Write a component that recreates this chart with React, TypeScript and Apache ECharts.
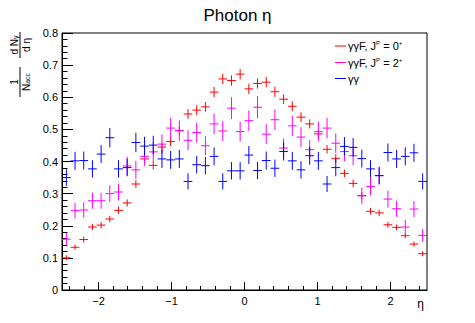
import React, { useEffect, useRef } from "react";
import * as echarts from "echarts";

const ETA_MIN = -2.5;
const ETA_MAX = 2.5;

// gammagamma fusion, J^P = 0+
const spin0 = [
  0.1, 0.133, 0.157, 0.196, 0.202, 0.221, 0.248, 0.271, 0.33, 0.408,
  0.388, 0.445, 0.462, 0.496, 0.548, 0.56, 0.57, 0.616, 0.657, 0.652,
  0.672, 0.626, 0.643, 0.647, 0.617, 0.594, 0.572, 0.538, 0.517, 0.486,
  0.438, 0.41, 0.363, 0.332, 0.294, 0.245, 0.24, 0.203, 0.195, 0.169,
  0.143, 0.113,
];
const spin0Err = [
  0.008, 0.008, 0.009, 0.01, 0.01, 0.01, 0.011, 0.011, 0.012, 0.013,
  0.013, 0.013, 0.014, 0.014, 0.015, 0.015, 0.015, 0.016, 0.016, 0.016,
  0.016, 0.016, 0.016, 0.016, 0.016, 0.015, 0.015, 0.015, 0.014, 0.014,
  0.013, 0.013, 0.012, 0.012, 0.011, 0.01, 0.01, 0.009, 0.009, 0.008,
  0.008, 0.008,
];

// gammagamma fusion, J^P = 2+
const spin2 = [
  0.158, 0.247, 0.249, 0.278, 0.278, 0.3, 0.305, 0.386, 0.374, 0.416,
  0.43, 0.454, 0.504, 0.496, 0.466, 0.49, 0.449, 0.517, 0.495, 0.566,
  0.493, 0.527, 0.569, 0.485, 0.53, 0.442, 0.511, 0.476, 0.437, 0.493,
  0.504, 0.457, 0.431, 0.418, 0.293, 0.322, 0.356, 0.283, 0.253, 0.196,
  0.252, 0.17,
];
const spin2Err = [
  0.02, 0.024, 0.024, 0.025, 0.025, 0.026, 0.026, 0.029, 0.028, 0.03,
  0.03, 0.03, 0.032, 0.032, 0.031, 0.031, 0.03, 0.032, 0.031, 0.034,
  0.031, 0.032, 0.034, 0.031, 0.032, 0.03, 0.032, 0.031, 0.03, 0.031,
  0.032, 0.03, 0.03, 0.03, 0.026, 0.027, 0.028, 0.026, 0.025, 0.022,
  0.025, 0.02,
];

// gammagamma
const diphoton = [
  0.35, 0.402, 0.403, 0.377, 0.423, 0.474, 0.377, 0.381, 0.459, 0.448,
  0.451, 0.408, 0.405, 0.408, 0.338, 0.39, 0.387, 0.416, 0.338, 0.371,
  0.371, 0.42, 0.372, 0.403, 0.379, 0.431, 0.402, 0.374, 0.418, 0.402,
  0.33, 0.381, 0.447, 0.444, 0.409, 0.377, 0.356, 0.428, 0.408, 0.416,
  0.427, 0.338,
];
const diphotonErr = [
  0.026, 0.028, 0.028, 0.027, 0.028, 0.03, 0.027, 0.027, 0.03, 0.029,
  0.029, 0.028, 0.028, 0.028, 0.025, 0.027, 0.027, 0.028, 0.025, 0.027,
  0.027, 0.028, 0.027, 0.028, 0.027, 0.028, 0.028, 0.027, 0.028, 0.028,
  0.025, 0.027, 0.029, 0.029, 0.028, 0.027, 0.026, 0.028, 0.028, 0.028,
  0.028, 0.025,
];

const xMajorTicks = [-2, -1, 0, 1, 2];
const xMinorTicks = [
  -2.4, -2.2, -1.8, -1.6, -1.4, -1.2, -0.8, -0.6, -0.4, -0.2, 0.2, 0.4,
  0.6, 0.8, 1.2, 1.4, 1.6, 1.8, 2.2, 2.4,
];

const seriesNames = ["spin0", "spin2", "diphoton"];
const seriesColors = ["#ff0000", "#ff00ff", "#0000ff"];

const FONT = "Liberation Sans, Arial, Helvetica, sans-serif";

function crossData(vals: number[], errs: number[]) {
  const w = (ETA_MAX - ETA_MIN) / vals.length;
  return vals.map((v, i) => [ETA_MIN + (i + 0.5) * w, v, errs[i], w]);
}

function makeRender(color: string) {
  return (params: any, api: any) => {
    const x = api.value(0);
    const y = api.value(1);
    const e = api.value(2);
    const w = api.value(3);
    const pL = api.coord([x - w / 2, y]);
    const pR = api.coord([x + w / 2, y]);
    const pT = api.coord([x, y + e]);
    const pB = api.coord([x, y - e]);
    const st = { stroke: color, lineWidth: 1 };
    return {
      type: "group",
      children: [
        { type: "line", shape: { x1: pL[0], y1: pL[1], x2: pR[0], y2: pR[1] }, style: st },
        { type: "line", shape: { x1: pT[0], y1: pT[1], x2: pB[0], y2: pB[1] }, style: st },
      ],
    };
  };
}

export default function App() {
  const ref = useRef<HTMLDivElement>(null);
  useEffect(() => {
    if (!ref.current) return;
    const chart = echarts.init(ref.current, null, { renderer: "svg" });
    const dataSets = [
      crossData(spin0, spin0Err),
      crossData(spin2, spin2Err),
      crossData(diphoton, diphotonErr),
    ];
    const legendLabels: Record<string, string> = {
      spin0: "{a|γγF, J}{s|P}{a| = 0}{s|+}",
      spin2: "{a|γγF, J}{s|P}{a| = 2}{s|+}",
      diphoton: "{a|γγ}",
    };
    const option: any = {
      animation: false,
      backgroundColor: "#fff",
      title: {
        text: "Photon η",
        left: "center",
        top: 2,
        textStyle: { fontFamily: FONT, fontSize: 17, fontWeight: "normal", color: "#000" },
      },
      legend: {
        orient: "vertical",
        left: 335,
        top: 40,
        padding: 0,
        itemWidth: 11,
        itemHeight: 1,
        itemGap: 5,
        icon: "rect",
        data: seriesNames,
        formatter: (n: string) => legendLabels[n],
        textStyle: {
          fontFamily: FONT,
          color: "#000",
          padding: [0, 0, 0, -3],
          rich: {
            a: { fontFamily: FONT, fontSize: 11, color: "#000", lineHeight: 12 },
            s: { fontFamily: FONT, fontSize: 6, color: "#000", verticalAlign: "top", lineHeight: 12, padding: [0, 0, 5, 0] },
          },
        },
      },
      grid: {
        left: 62,
        right: 48,
        top: 33,
        bottom: 33,
        show: true,
        borderColor: "#000",
        borderWidth: 1,
        backgroundColor: "transparent",
      },
      xAxis: [
        {
          type: "value",
          min: ETA_MIN,
          max: ETA_MAX,
          axisLine: { onZero: false, lineStyle: { color: "#000", width: 1 } },
          axisTick: { inside: true, length: 8, customValues: xMajorTicks, lineStyle: { color: "#000" } },
          axisLabel: {
            customValues: xMajorTicks,
            fontFamily: FONT,
            fontSize: 11,
            color: "#000",
            margin: 5,
            formatter: (v: number) => String(v).replace("-", "−"),
          },
          splitLine: { show: false },
        },
        {
          type: "value",
          min: ETA_MIN,
          max: ETA_MAX,
          position: "bottom",
          axisLine: { show: false, onZero: false },
          axisTick: { inside: true, length: 4, customValues: xMinorTicks, lineStyle: { color: "#000" } },
          axisLabel: { show: false },
          splitLine: { show: false },
        },
      ],
      yAxis: {
        type: "value",
        min: 0,
        max: 0.8,
        interval: 0.1,
        axisLine: { show: true, onZero: false, lineStyle: { color: "#000", width: 1 } },
        axisTick: { show: true, inside: true, length: 11, lineStyle: { color: "#000" } },
        minorTick: { show: true, splitNumber: 5, length: 5.5, lineStyle: { color: "#000" } },
        axisLabel: {
          fontFamily: FONT,
          fontSize: 11,
          color: "#000",
          margin: 4,
          formatter: (v: number) => (v === 0 ? "0" : v.toFixed(1)),
        },
        splitLine: { show: false },
      },
      series: seriesNames.map((name, k) => ({
        name,
        type: "custom",
        xAxisIndex: 0,
        yAxisIndex: 0,
        itemStyle: { color: seriesColors[k] },
        renderItem: makeRender(seriesColors[k]),
        encode: { x: 0, y: 1 },
        data: dataSets[k],
        clip: true,
      })),
      graphic: [
        {
          type: "text",
          right: 51,
          top: 298,
          style: { text: "η", fontFamily: FONT, fontSize: 12, fill: "#000" },
        },
        {
          type: "group",
          x: 19,
          y: 101,
          rotation: Math.PI / 2,
          children: [
            { type: "text", x: 19, y: 0, style: { text: "1", fontFamily: FONT, fontSize: 10, fill: "#000", align: "center", verticalAlign: "bottom" } },
            { type: "line", shape: { x1: 4, y1: 1, x2: 34, y2: 1 }, style: { stroke: "#000", lineWidth: 1 } },
            {
              type: "text",
              x: 19,
              y: 2,
              style: {
                text: "{n|N}{s|acc}",
                align: "center",
                verticalAlign: "top",
                rich: {
                  n: { fontFamily: FONT, fontSize: 10, fill: "#000" },
                  s: { fontFamily: FONT, fontSize: 7, fill: "#000", verticalAlign: "bottom" },
                },
              },
            },
            {
              type: "text",
              x: 56,
              y: 0,
              style: {
                text: "{n|d N}{s|γ}",
                align: "center",
                verticalAlign: "bottom",
                rich: {
                  n: { fontFamily: FONT, fontSize: 10, fill: "#000" },
                  s: { fontFamily: FONT, fontSize: 7, fill: "#000", verticalAlign: "bottom" },
                },
              },
            },
            { type: "line", shape: { x1: 43, y1: 1, x2: 69, y2: 1 }, style: { stroke: "#000", lineWidth: 1 } },
            { type: "text", x: 56, y: 2, style: { text: "d η", fontFamily: FONT, fontSize: 10, fill: "#000", align: "center", verticalAlign: "top" } },
          ],
        },
      ],
    };
    chart.setOption(option);
    return () => chart.dispose();
  }, []);
  return <div ref={ref} style={{ width: 475, height: 323, margin: -8 }} />;
}
